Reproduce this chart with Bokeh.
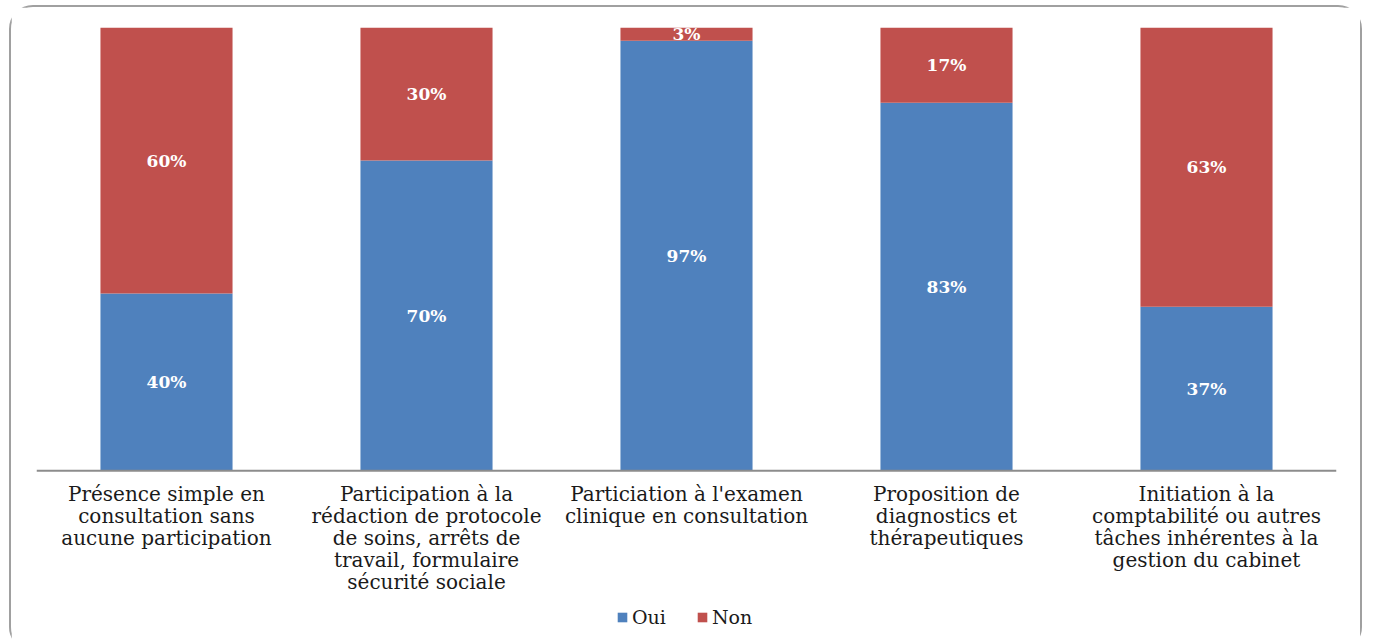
from bokeh.plotting import figure
from bokeh.models import FactorRange, Legend, LegendItem, ColumnDataSource, Span
from bokeh.embed import file_html
from bokeh.resources import INLINE
from bokeh.core.properties import value

categories = [
    "Présence simple en\nconsultation sans\naucune participation",
    "Participation à la\nrédaction de protocole\nde soins, arrêts de\ntravail, formulaire\nsécurité sociale",
    "Particiation à l'examen\nclinique en consultation",
    "Proposition de\ndiagnostics et\nthérapeutiques",
    "Initiation à la\ncomptabilité ou autres\ntâches inhérentes à la\ngestion du cabinet",
]
oui = [40, 70, 97, 83, 37]
non = [60, 30, 3, 17, 63]
series = ["Oui", "Non"]
colors = ["#4F81BD", "#C0504D"]

src = ColumnDataSource(dict(cat=categories, Oui=oui, Non=non))

# frame extends below the value axis so the category labels and legend live inside it
p = figure(x_range=FactorRange(*categories, range_padding=0), y_range=(-41.2, 100),
           width=1353, height=646, output_backend="svg", toolbar_location=None,
           min_border_left=25, min_border_right=28, min_border_top=20, min_border_bottom=0)
p.styles = {"border": "2px solid #a0a0a0", "border-radius": "24px",
            "margin-left": "9px", "margin-top": "5px"}

rs = p.vbar_stack(series, x="cat", width=0.508, color=colors, source=src, line_color=None)

# data labels
lab_cat, lab_y, lab_t = [], [], []
for c, o, n in zip(categories, oui, non):
    lab_cat += [c, c]
    lab_y += [o / 2, o + n / 2]
    lab_t += [f"{o}%", f"{n}%"]
p.text(x=lab_cat, y=lab_y, text=lab_t, text_align="center", text_baseline="middle",
       text_color="white", text_font=value("DejaVu Serif"), text_font_style="bold",
       text_font_size="17px")

# category axis line and labels
p.add_layout(Span(location=0, dimension="width", line_color="#8c8c8c", line_width=2))
p.text(x=categories, y=[0] * len(categories), text=categories, y_offset=11,
       text_align="center", text_baseline="top", text_color="#1a1a1a",
       text_font=value("DejaVu Serif"), text_font_size="20px", text_line_height=0.917)

p.xaxis.visible = False
p.yaxis.visible = False
p.xgrid.visible = False
p.ygrid.visible = False
p.outline_line_color = None

legend = Legend(items=[LegendItem(label=s, renderers=[r]) for s, r in zip(series, rs)],
                orientation="horizontal", location=(580, 25),
                padding=0, margin=0, border_line_color=None, background_fill_alpha=0,
                glyph_width=12, glyph_height=12, label_standoff=4, spacing=30,
                label_text_font="DejaVu Serif", label_text_font_size="19px",
                label_text_color="#1a1a1a")
p.add_layout(legend, "center")

open("out.html", "w").write(file_html(p, INLINE))
